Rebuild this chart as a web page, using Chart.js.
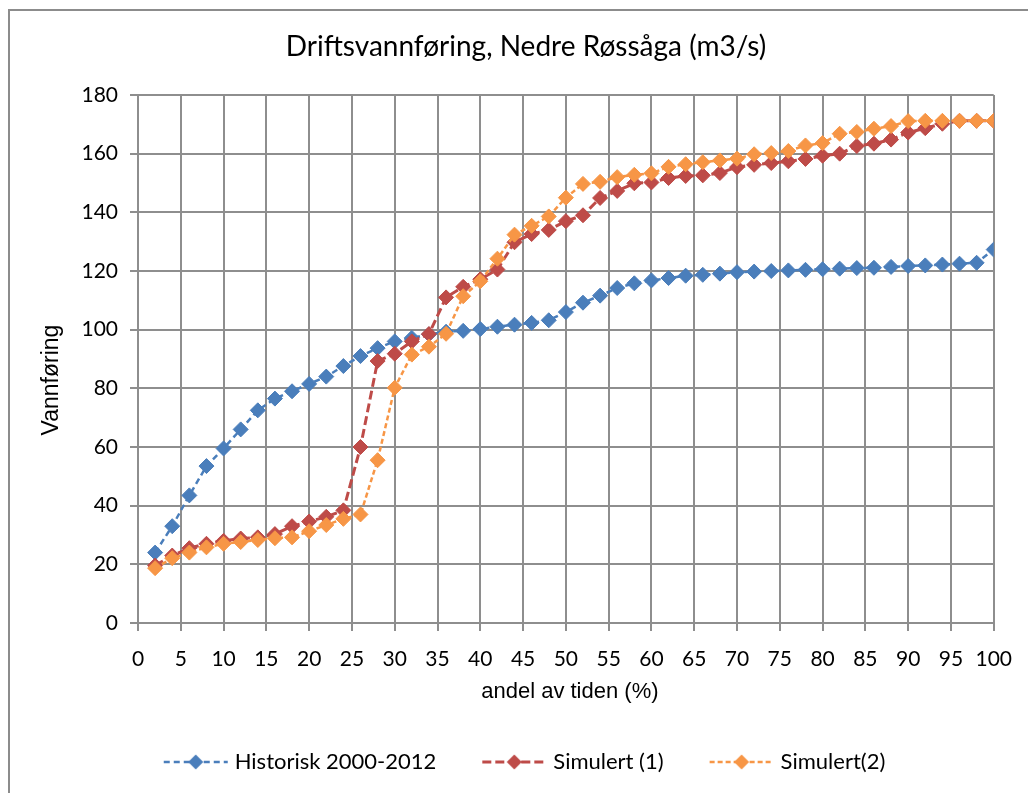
<!DOCTYPE html>
<html>
<head>
<meta charset="utf-8">
<script src="https://cdn.jsdelivr.net/npm/chart.js@4.4.1/dist/chart.umd.min.js"></script>
<style>
  html, body { margin: 0; padding: 0; background: #fff; }
</style>
</head>
<body>
<canvas id="myChart" width="1028" height="793"></canvas>
<script>
// andel av tiden (%)
const pctX = [2, 4, 6, 8, 10, 12, 14, 16, 18, 20, 22, 24, 26, 28, 30, 32, 34, 36, 38, 40,
    42, 44, 46, 48, 50, 52, 54, 56, 58, 60, 62, 64, 66, 68, 70, 72, 74, 76, 78, 80,
    82, 84, 86, 88, 90, 92, 94, 96, 98, 100];

const historisk = [24, 33, 43.5, 53.5, 59.5, 66, 72.5, 76.5, 79, 81.5, 84, 87.6, 91, 93.7, 96, 97.2, 98.4, 99.3, 99.6, 100.2,
    101, 101.7, 102.3, 103.2, 106, 109.2, 111.6, 114.2, 115.8, 116.8, 117.6, 118.4, 118.7, 119.1, 119.6, 119.8, 120, 120.2, 120.4, 120.6,
    120.8, 121, 121.1, 121.4, 121.7, 121.9, 122.2, 122.5, 122.8, 127.3];

const simulert1 = [19.6, 23, 25.5, 27, 28, 28.8, 29.2, 30.3, 33, 34.6, 36.2, 38.4, 60, 89.3, 91.8, 96, 98.5, 111, 114.6, 117.2,
    120.5, 129.8, 132.6, 134, 137, 139, 144.9, 147.3, 149.9, 150.2, 151.7, 152.4, 152.6, 153.4, 155.4, 156.2, 156.8, 157.4, 158.2, 159.3,
    160, 162.6, 163.4, 164.8, 167.2, 168.7, 170.2, 171.2, 171.2, 171.2];

const simulert2 = [18.7, 22.1, 24, 25.8, 27, 27.6, 28.3, 28.9, 29.2, 31.3, 33.4, 35.5, 37, 55.5, 80.2, 91.5, 94.2, 98.6, 111.4, 116.5,
    124.2, 132.4, 135.4, 138.6, 145, 149.7, 150.4, 152, 152.8, 153.3, 155.5, 156.4, 157.1, 157.7, 158.3, 159.8, 160.2, 160.9, 162.8, 163.6,
    166.8, 167.4, 168.5, 169.4, 171.1, 171.2, 171.2, 171.2, 171.2, 171.2];

const seriesNames = ['Historisk 2000-2012', 'Simulert (1)', 'Simulert(2)'];
const yTicks = { min: 0, max: 180, step: 20 };
const xTicks = { min: 0, max: 100, step: 5 };

const chartTitle = 'Driftsvannføring, Nedre Røssåga (m3/s)';
const yTitle = 'Vannføring';
const xTitle = 'andel av tiden (%)';

const blue = '#4A7EBB';
const red = '#BE4B48';
const orange = '#F79646';
const gridGrey = '#8e8e8e';

function toPoints(values) {
    return pctX.map((x, i) => ({ x: x, y: values[i] }));
}

// little "---◆---" sample for the legend
function legendSample(color, dash, lineWidth) {
    const c = document.createElement('canvas');
    c.width = 66;
    c.height = 18;
    const g = c.getContext('2d');
    g.strokeStyle = color;
    g.lineWidth = lineWidth;
    g.setLineDash(dash);
    g.beginPath();
    g.moveTo(1, 9);
    g.lineTo(65, 9);
    g.stroke();
    g.setLineDash([]);
    g.fillStyle = color;
    g.beginPath();
    g.moveTo(33, 1.5);
    g.lineTo(40.5, 9);
    g.lineTo(33, 16.5);
    g.lineTo(25.5, 9);
    g.closePath();
    g.fill();
    return c;
}

const styles = [
    { color: blue, dash: [6, 4], width: 2.5, order: 3 },
    { color: red, dash: [9, 4], width: 3, order: 2 },
    { color: orange, dash: [5, 3], width: 2.5, order: 1 }
];

const seriesData = [historisk, simulert1, simulert2];

const datasets = seriesData.map((vals, i) => ({
    label: seriesNames[i],
    data: toPoints(vals),
    borderColor: styles[i].color,
    backgroundColor: styles[i].color,
    borderWidth: styles[i].width,
    borderDash: styles[i].dash,
    pointStyle: 'rectRot',
    pointRadius: 7.5,
    pointBorderWidth: 1,
    pointBackgroundColor: styles[i].color,
    pointBorderColor: styles[i].color,
    tension: 0,
    order: styles[i].order
}));

// white background, outer frame, chart title and axis titles
const framePlugin = {
    id: 'frame',
    beforeDraw(chart) {
        const ctx = chart.ctx;
        ctx.save();
        ctx.fillStyle = '#fff';
        ctx.fillRect(0, 0, chart.width, chart.height);
        ctx.strokeStyle = '#8c8c8c';
        ctx.lineWidth = 2;
        ctx.strokeRect(9, 10, 1200, 1200);
        ctx.restore();
    },
    afterDraw(chart) {
        const ctx = chart.ctx;
        const area = chart.chartArea;
        ctx.save();
        ctx.fillStyle = '#000';
        ctx.textAlign = 'center';
        ctx.textBaseline = 'middle';
        ctx.font = '28px Lato';
        ctx.fillText(chartTitle, 526, 47);
        ctx.font = '22px "Liberation Sans"';
        ctx.fillText(xTitle, (area.left + area.right) / 2 + 4, 692);
        ctx.translate(52, 380);
        ctx.rotate(-Math.PI / 2);
        ctx.font = '23px "Liberation Sans"';
        ctx.fillText(yTitle, 0, 0);
        ctx.restore();
    }
};

var ctx = document.getElementById('myChart').getContext('2d');

var myChart = new Chart(ctx, {
    type: 'line',
    data: { datasets: datasets },
    plugins: [framePlugin],
    options: {
        responsive: false,
        animation: false,
        devicePixelRatio: 1,
        layout: { padding: { left: 58, right: 33, top: 95, bottom: 10 } },
        plugins: {
            tooltip: { enabled: false },
            title: { display: false },
            legend: {
                position: 'bottom',
                labels: {
                    usePointStyle: true,
                    pointStyleWidth: 56,
                    padding: 50,
                    color: '#000',
                    font: { family: 'Lato', size: 22 },
                    generateLabels(chart) {
                        return chart.data.datasets.map((ds, i) => ({
                            text: ds.label,
                            datasetIndex: i,
                            fillStyle: ds.borderColor,
                            strokeStyle: ds.borderColor,
                            fontColor: '#000',
                            lineWidth: 0,
                            hidden: false,
                            pointStyle: legendSample(styles[i].color, styles[i].dash, styles[i].width)
                        }));
                    }
                }
            }
        },
        scales: {
            x: {
                type: 'linear',
                min: xTicks.min,
                max: xTicks.max,
                afterFit(scale) { scale.height = 78; },
                ticks: {
                    stepSize: xTicks.step,
                    color: '#000',
                    padding: 16,
                    maxRotation: 0,
                    font: { family: 'Lato', size: 21 }
                },
                grid: { color: gridGrey, lineWidth: 2, tickLength: 8 },
                border: { color: gridGrey, width: 2 },
                title: { display: false }
            },
            y: {
                min: yTicks.min,
                max: yTicks.max,
                afterFit(scale) { scale.width = 80; },
                ticks: {
                    stepSize: yTicks.step,
                    color: '#000',
                    padding: 12,
                    font: { family: 'Lato', size: 21 }
                },
                grid: { color: gridGrey, lineWidth: 2, tickLength: 8 },
                border: { color: gridGrey, width: 2 },
                title: { display: false }
            }
        }
    }
});

myChart;
</script>
</body>
</html>
